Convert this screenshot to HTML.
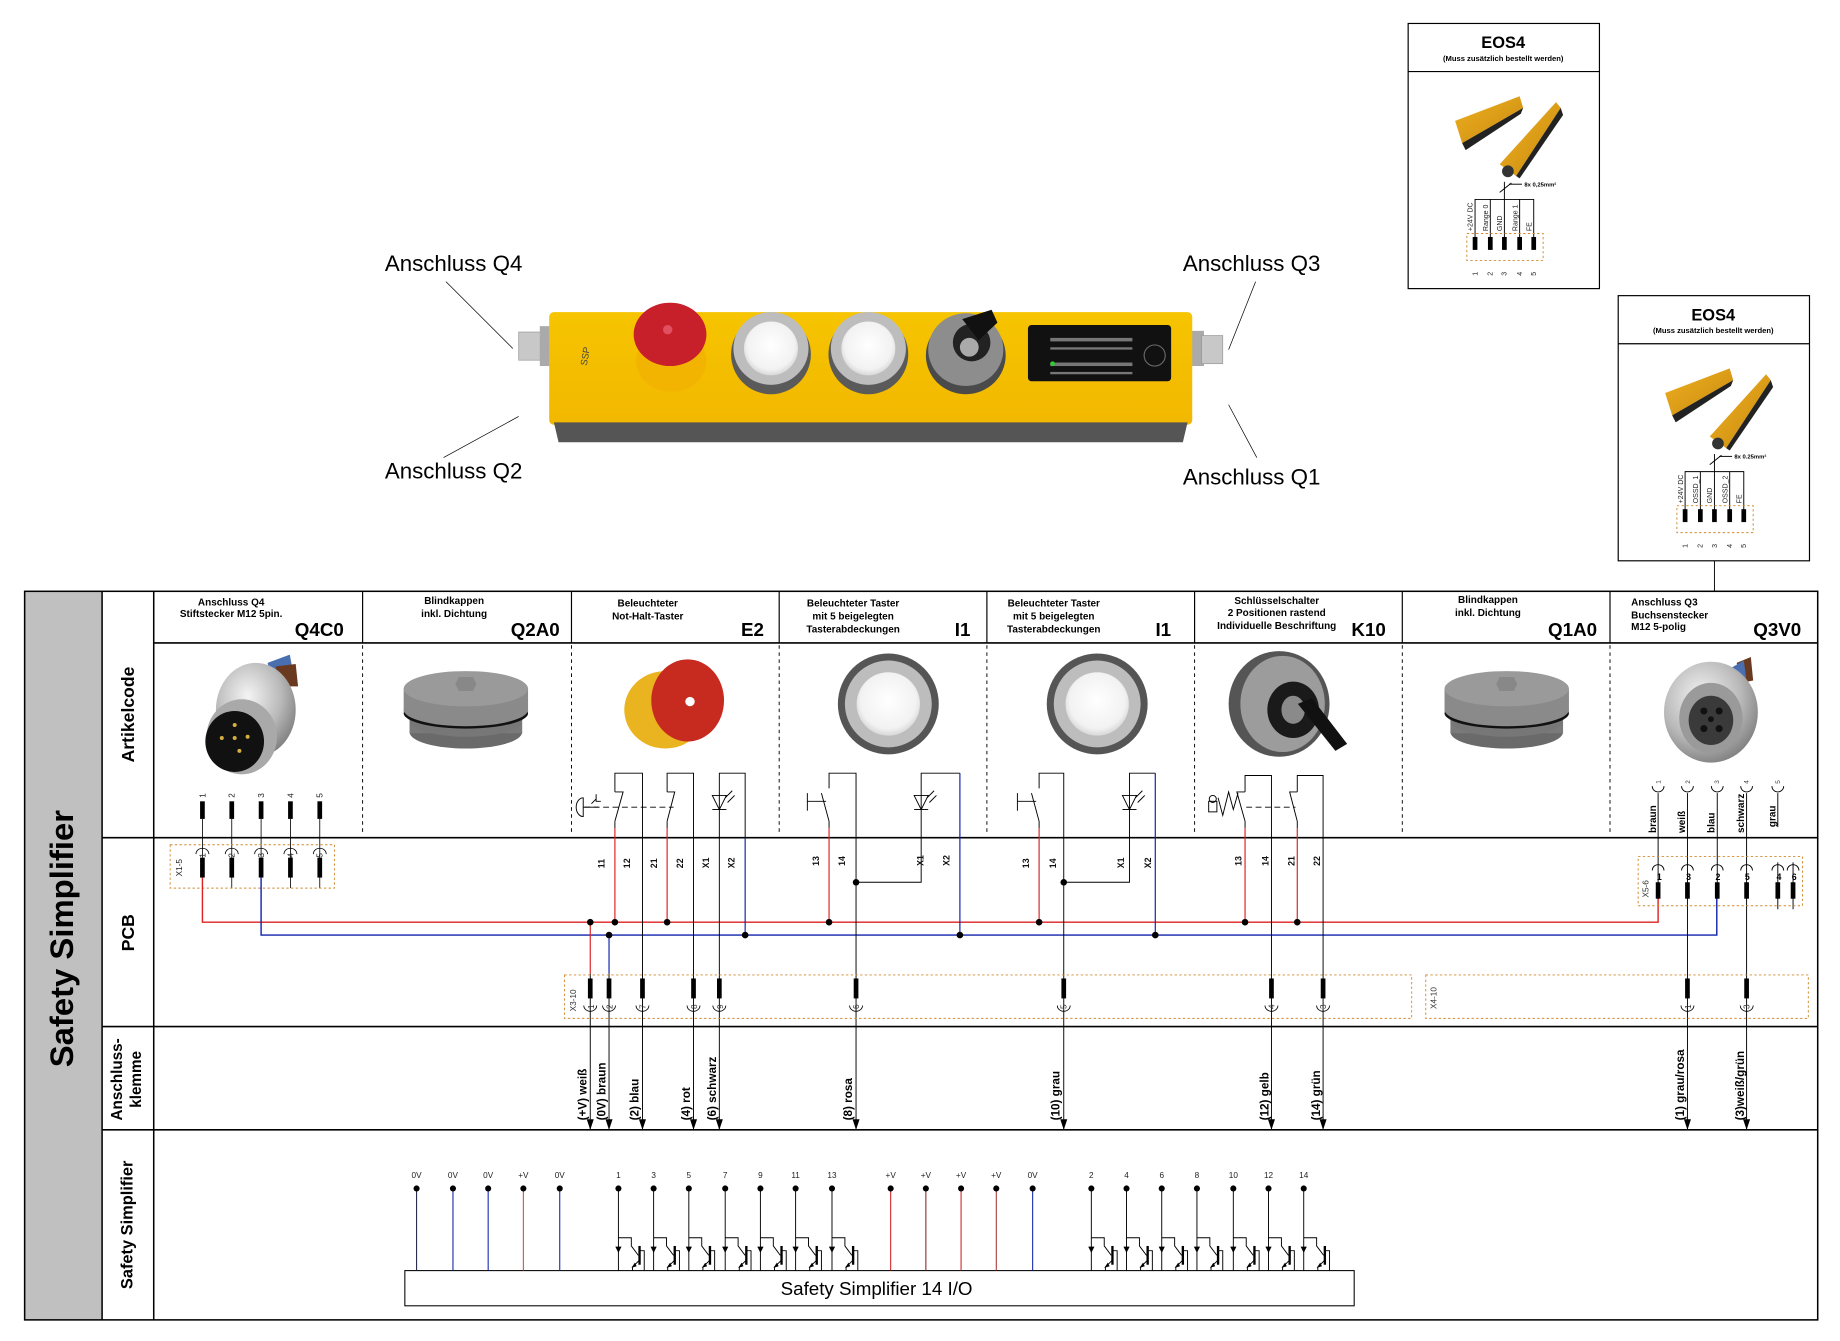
<!DOCTYPE html>
<html><head><meta charset="utf-8"><style>
html,body{margin:0;padding:0;background:#fff}
svg{display:block}
text{font-family:"Liberation Sans",Arial,sans-serif}
</style></head><body>
<svg width="1840" height="1341" viewBox="0 0 1568 1143" preserveAspectRatio="none" xmlns="http://www.w3.org/2000/svg">
<defs>
<radialGradient id="silver" cx="40%" cy="35%" r="70%"><stop offset="0" stop-color="#f4f4f4"/><stop offset="0.6" stop-color="#b9b9b9"/><stop offset="1" stop-color="#7d7d7d"/></radialGradient>
<radialGradient id="white" cx="50%" cy="45%" r="55%"><stop offset="0" stop-color="#fff"/><stop offset="0.8" stop-color="#f2f2f2"/><stop offset="1" stop-color="#d8d8d8"/></radialGradient>
<linearGradient id="yel" x1="0" y1="0" x2="0" y2="1"><stop offset="0" stop-color="#f6c400"/><stop offset="1" stop-color="#f2b800"/></linearGradient>
<linearGradient id="bar" x1="0" y1="0" x2="1" y2="1"><stop offset="0" stop-color="#f0b020"/><stop offset="1" stop-color="#c88a10"/></linearGradient>
</defs>

<!-- ===== TOP DEVICE ===== -->
<text x="328" y="231" font-size="19">Anschluss Q4</text>
<text x="328" y="408" font-size="19">Anschluss Q2</text>
<text x="1008" y="231" font-size="19">Anschluss Q3</text>
<text x="1008" y="413" font-size="19">Anschluss Q1</text>
<g stroke="#000" stroke-width="0.6">
<line x1="380" y1="240" x2="437" y2="297"/>
<line x1="378" y1="390" x2="442" y2="355"/>
<line x1="1070" y1="240" x2="1047" y2="298"/>
<line x1="1047" y1="345" x2="1071" y2="390"/>
</g>
<!-- connectors -->
<rect x="442" y="283" width="20" height="24" fill="#c8c8c8" stroke="#999" stroke-width="0.6"/>
<rect x="460" y="278" width="10" height="34" fill="#aaa"/>
<rect x="1014" y="282" width="12" height="30" fill="#aaa"/>
<rect x="1024" y="286" width="18" height="24" fill="#c8c8c8" stroke="#999" stroke-width="0.6"/>
<!-- body -->
<rect x="468" y="266" width="548" height="96" rx="4" fill="url(#yel)"/>
<path d="M472 360 H1012 L1008 377 H476 Z" fill="#555"/>
<!-- e-stop -->
<ellipse cx="572" cy="308" rx="30" ry="26" fill="#f2b400"/>
<ellipse cx="571" cy="285" rx="31" ry="27" fill="#c8202a"/>
<ellipse cx="569" cy="281" rx="4" ry="4" fill="#e05060"/>
<!-- white buttons -->
<ellipse cx="657" cy="302" rx="34" ry="34" fill="#5a5a5a"/>
<ellipse cx="657" cy="297" rx="32" ry="31" fill="#bdbdbd"/>
<ellipse cx="657" cy="297" rx="23" ry="23" fill="url(#white)"/>
<ellipse cx="740" cy="302" rx="34" ry="34" fill="#5a5a5a"/>
<ellipse cx="740" cy="297" rx="32" ry="31" fill="#bdbdbd"/>
<ellipse cx="740" cy="297" rx="23" ry="23" fill="url(#white)"/>
<!-- key switch -->
<ellipse cx="823" cy="303" rx="34" ry="33" fill="#4a4a4a"/>
<ellipse cx="823" cy="298" rx="32" ry="31" fill="#8d8d8d"/>
<ellipse cx="828" cy="292" rx="16" ry="16" fill="#222"/>
<ellipse cx="826" cy="296" rx="8" ry="8" fill="#aaa"/>
<path d="M820 272 L845 264 L850 275 L834 290 Z" fill="#111"/>
<!-- display -->
<rect x="876" y="277" width="122" height="48" rx="3" fill="#111"/>
<g fill="#777"><rect x="895" y="288" width="70" height="3"/><rect x="895" y="296" width="70" height="2"/><rect x="895" y="309" width="70" height="3"/><rect x="895" y="317" width="70" height="2"/></g>
<circle cx="897" cy="310" r="2" fill="#3c3"/>
<circle cx="984" cy="303" r="9" fill="none" stroke="#666" stroke-width="1"/>
<text x="500" y="312" font-size="8" fill="#444" transform="rotate(-80 500 312)">SSP</text>

<!-- ===== EOS4 boxes ===== -->
<g id="eos1">
<rect x="1200" y="20" width="163" height="226" fill="#fff" stroke="#000" stroke-width="1"/>
<line x1="1200" y1="61" x2="1363" y2="61" stroke="#000" stroke-width="1"/>
<text x="1281" y="41" font-size="14" font-weight="bold" text-anchor="middle">EOS4</text>
<text x="1281" y="52" font-size="6.5" font-weight="bold" text-anchor="middle">(Muss zusätzlich bestellt werden)</text>
<path d="M1240 103 L1295 82 L1298 92 L1246 122 Z" fill="url(#bar)"/>
<path d="M1246 122 L1298 92 L1296 97 L1249 128 Z" fill="#222"/>
<path d="M1278 140 L1326 87 L1330 92 L1292 150 Z" fill="url(#bar)"/>
<path d="M1292 150 L1330 92 L1332 98 L1295 152 Z" fill="#222"/>
<circle cx="1285" cy="146" r="5" fill="#333"/>
<g stroke="#000" stroke-width="0.8" fill="none">
<path d="M1257 211 V170 H1307 V211"/><line x1="1270" y1="170" x2="1270" y2="211"/><line x1="1282" y1="155" x2="1282" y2="211"/><line x1="1295" y1="170" x2="1295" y2="211"/>
<line x1="1278" y1="164" x2="1288" y2="156"/><line x1="1286" y1="157" x2="1297" y2="157"/>
</g>
<text x="1299" y="159" font-size="5" font-weight="bold">8x 0,25mm²</text>
<g fill="#000"><rect x="1255" y="202" width="4" height="11"/><rect x="1268" y="202" width="4" height="11"/><rect x="1280" y="202" width="4" height="11"/><rect x="1293" y="202" width="4" height="11"/><rect x="1305" y="202" width="4" height="11"/></g>
<rect x="1250" y="199" width="65" height="23" fill="none" stroke="#d08a30" stroke-width="0.8" stroke-dasharray="2,2"/>
<g font-size="6" fill="#222">
<text transform="translate(1255 197) rotate(-90)">+24V DC</text>
<text transform="translate(1268 197) rotate(-90)">Range 0</text>
<text transform="translate(1280 197) rotate(-90)">GND</text>
<text transform="translate(1293 197) rotate(-90)">Range 1</text>
<text transform="translate(1305 197) rotate(-90)">FE</text>
<text transform="translate(1259 235) rotate(-90)">1</text>
<text transform="translate(1272 235) rotate(-90)">2</text>
<text transform="translate(1284 235) rotate(-90)">3</text>
<text transform="translate(1297 235) rotate(-90)">4</text>
<text transform="translate(1309 235) rotate(-90)">5</text>
</g>
</g>
<g transform="translate(179 232)">
<rect x="1200" y="20" width="163" height="226" fill="#fff" stroke="#000" stroke-width="1"/>
<line x1="1200" y1="61" x2="1363" y2="61" stroke="#000" stroke-width="1"/>
<text x="1281" y="41" font-size="14" font-weight="bold" text-anchor="middle">EOS4</text>
<text x="1281" y="52" font-size="6.5" font-weight="bold" text-anchor="middle">(Muss zusätzlich bestellt werden)</text>
<path d="M1240 103 L1295 82 L1298 92 L1246 122 Z" fill="url(#bar)"/>
<path d="M1246 122 L1298 92 L1296 97 L1249 128 Z" fill="#222"/>
<path d="M1278 140 L1326 87 L1330 92 L1292 150 Z" fill="url(#bar)"/>
<path d="M1292 150 L1330 92 L1332 98 L1295 152 Z" fill="#222"/>
<circle cx="1285" cy="146" r="5" fill="#333"/>
<g stroke="#000" stroke-width="0.8" fill="none">
<path d="M1257 211 V170 H1307 V211"/><line x1="1270" y1="170" x2="1270" y2="211"/><line x1="1282" y1="155" x2="1282" y2="211"/><line x1="1295" y1="170" x2="1295" y2="211"/>
<line x1="1278" y1="164" x2="1288" y2="156"/><line x1="1286" y1="157" x2="1297" y2="157"/>
</g>
<text x="1299" y="159" font-size="5" font-weight="bold">8x 0.25mm²</text>
<g fill="#000"><rect x="1255" y="202" width="4" height="11"/><rect x="1268" y="202" width="4" height="11"/><rect x="1280" y="202" width="4" height="11"/><rect x="1293" y="202" width="4" height="11"/><rect x="1305" y="202" width="4" height="11"/></g>
<rect x="1250" y="199" width="65" height="23" fill="none" stroke="#d08a30" stroke-width="0.8" stroke-dasharray="2,2"/>
<g font-size="6" fill="#222">
<text transform="translate(1255 197) rotate(-90)">+24V DC</text>
<text transform="translate(1268 197) rotate(-90)">OSSD_1</text>
<text transform="translate(1280 197) rotate(-90)">GND</text>
<text transform="translate(1293 197) rotate(-90)">OSSD_2</text>
<text transform="translate(1305 197) rotate(-90)">FE</text>
<text transform="translate(1259 235) rotate(-90)">1</text>
<text transform="translate(1272 235) rotate(-90)">2</text>
<text transform="translate(1284 235) rotate(-90)">3</text>
<text transform="translate(1297 235) rotate(-90)">4</text>
<text transform="translate(1309 235) rotate(-90)">5</text>
</g>
</g>
<line x1="1461" y1="478" x2="1461" y2="504" stroke="#000" stroke-width="0.8"/>

<!-- ===== TABLE FRAME ===== -->
<rect x="21" y="504" width="66" height="621" fill="#c0c0c0"/>
<g stroke="#000" stroke-width="1.3" fill="none">
<rect x="21" y="504" width="1528" height="621"/>
<line x1="87" y1="504" x2="87" y2="1125"/>
<line x1="131" y1="504" x2="131" y2="1125"/>
<line x1="131" y1="548" x2="1549" y2="548"/>
<line x1="87" y1="714" x2="1549" y2="714"/>
<line x1="87" y1="875" x2="1549" y2="875"/>
<line x1="87" y1="963" x2="1549" y2="963"/>
</g>
<g stroke="#000" stroke-width="1">
<line x1="309" y1="504" x2="309" y2="548"/><line x1="487" y1="504" x2="487" y2="548"/><line x1="664" y1="504" x2="664" y2="548"/><line x1="841" y1="504" x2="841" y2="548"/><line x1="1018" y1="504" x2="1018" y2="548"/><line x1="1195" y1="504" x2="1195" y2="548"/><line x1="1372" y1="504" x2="1372" y2="548"/>
</g>
<g stroke="#000" stroke-width="0.8" stroke-dasharray="3,3">
<line x1="309" y1="550" x2="309" y2="712"/><line x1="487" y1="550" x2="487" y2="712"/><line x1="664" y1="550" x2="664" y2="712"/><line x1="841" y1="550" x2="841" y2="712"/><line x1="1018" y1="550" x2="1018" y2="712"/><line x1="1195" y1="550" x2="1195" y2="712"/><line x1="1372" y1="550" x2="1372" y2="712"/>
</g>
<text transform="translate(62 800) rotate(-90)" font-size="28" font-weight="bold" text-anchor="middle">Safety Simplifier</text>
<text transform="translate(114 609) rotate(-90)" font-size="15" font-weight="bold" text-anchor="middle">Artikelcode</text>
<text transform="translate(114 795) rotate(-90)" font-size="15" font-weight="bold" text-anchor="middle">PCB</text>
<text transform="translate(104 920) rotate(-90)" font-size="13" font-weight="bold" text-anchor="middle">Anschluss-</text>
<text transform="translate(120 920) rotate(-90)" font-size="13" font-weight="bold" text-anchor="middle">klemme</text>
<text transform="translate(113 1044) rotate(-90)" font-size="14" font-weight="bold" text-anchor="middle">Safety Simplifier</text>

<!-- header texts -->
<g font-size="8.5" font-weight="bold" text-anchor="middle">
<text x="197" y="516">Anschluss Q4</text><text x="197" y="526">Stiftstecker M12 5pin.</text>
<text x="387" y="515">Blindkappen</text><text x="387" y="526">inkl. Dichtung</text>
<text x="552" y="517">Beleuchteter</text><text x="552" y="528">Not-Halt-Taster</text>
<text x="727" y="517">Beleuchteter Taster</text><text x="727" y="528">mit 5 beigelegten</text><text x="727" y="539">Tasterabdeckungen</text>
<text x="898" y="517">Beleuchteter Taster</text><text x="898" y="528">mit 5 beigelegten</text><text x="898" y="539">Tasterabdeckungen</text>
<text x="1088" y="515">Schlüsselschalter</text><text x="1088" y="525">2 Positionen rastend</text><text x="1088" y="536">Individuelle Beschriftung</text>
<text x="1268" y="514">Blindkappen</text><text x="1268" y="525">inkl. Dichtung</text>
</g>
<g font-size="8.5" font-weight="bold">
<text x="1390" y="516">Anschluss Q3</text><text x="1390" y="527">Buchsenstecker</text><text x="1390" y="537">M12 5-polig</text>
</g>
<g font-size="16" font-weight="bold" text-anchor="end">
<text x="293" y="542">Q4C0</text><text x="477" y="542">Q2A0</text><text x="651" y="542">E2</text><text x="827" y="542">I1</text><text x="998" y="542">I1</text><text x="1181" y="542">K10</text><text x="1361" y="542">Q1A0</text><text x="1535" y="542">Q3V0</text>
</g>

<!-- product images -->
<!-- Q4 connector -->
<path d="M228 565 L247 558 L250 575 L232 580 Z" fill="#4a6fb0"/>
<path d="M235 568 L252 566 L254 585 L238 585 Z" fill="#6a3a20"/>
<ellipse cx="218" cy="605" rx="34" ry="40" fill="url(#silver)"/>
<ellipse cx="206" cy="628" rx="30" ry="32" fill="#a9a9a9"/>
<ellipse cx="200" cy="632" rx="25" ry="26" fill="#111"/>
<g fill="#d4b040"><circle cx="200" cy="618" r="1.7"/><circle cx="189" cy="629" r="1.7"/><circle cx="200" cy="629" r="1.7"/><circle cx="211" cy="628" r="1.7"/><circle cx="204" cy="640" r="1.7"/></g>
<!-- blind caps -->
<g id="cap">
<ellipse cx="397" cy="624" rx="48" ry="14" fill="#6a6a6a"/>
<rect x="349" y="605" width="96" height="20" fill="#7a7a7a"/>
<ellipse cx="397" cy="614" rx="48" ry="14" fill="#777"/>
<ellipse cx="397" cy="608" rx="53" ry="13" fill="#111"/>
<rect x="344" y="587" width="106" height="20" fill="#8a8a8a"/>
<ellipse cx="397" cy="605" rx="53" ry="14" fill="#8a8a8a"/>
<ellipse cx="397" cy="587" rx="53" ry="15" fill="#9a9a9a"/>
<path d="M391 577 L403 577 L406 583 L403 589 L391 589 L388 583 Z" fill="#888"/>
</g>
<use href="#cap" transform="translate(887 0)"/>
<!-- E2 -->
<ellipse cx="567" cy="605" rx="35" ry="33" fill="#eab320"/>
<ellipse cx="586" cy="597" rx="31" ry="35" fill="#c72a1e"/>
<circle cx="588" cy="598" r="4" fill="#fff"/>
<!-- I1 x2 -->
<circle cx="757" cy="600" r="43" fill="#555"/><circle cx="757" cy="600" r="37" fill="#bdbdbd"/><circle cx="757" cy="600" r="27" fill="url(#white)"/>
<circle cx="935" cy="600" r="43" fill="#555"/><circle cx="935" cy="600" r="37" fill="#bdbdbd"/><circle cx="935" cy="600" r="27" fill="url(#white)"/>
<!-- K10 -->
<ellipse cx="1090" cy="600" rx="43" ry="45" fill="#555"/>
<ellipse cx="1093" cy="600" rx="36" ry="41" fill="#9c9c9c"/>
<ellipse cx="1102" cy="605" rx="22" ry="24" fill="#1a1a1a"/>
<ellipse cx="1102" cy="605" rx="10" ry="12" fill="#8a8a8a"/>
<path d="M1106 600 L1118 595 L1148 634 L1138 640 Z" fill="#111"/>
<!-- Q3 -->
<path d="M1480 565 L1492 560 L1494 580 L1484 582 Z" fill="#6a3a20"/>
<path d="M1474 570 L1486 563 L1488 578 L1478 582 Z" fill="#4a6fb0"/>
<ellipse cx="1458" cy="607" rx="40" ry="43" fill="url(#silver)"/>
<ellipse cx="1458" cy="612" rx="27" ry="30" fill="#9a9a9a"/>
<ellipse cx="1458" cy="614" rx="19" ry="21" fill="#3a3a3a"/>
<g fill="#111"><circle cx="1452" cy="606" r="3"/><circle cx="1465" cy="606" r="3"/><circle cx="1452" cy="621" r="3"/><circle cx="1465" cy="621" r="3"/><circle cx="1458" cy="613" r="2.5"/></g>

<!-- ===== Q4 pins ===== -->
<g font-size="7" fill="#222">
<text transform="translate(175 680) rotate(-90)">1</text><text transform="translate(200 680) rotate(-90)">2</text><text transform="translate(225 680) rotate(-90)">3</text><text transform="translate(250 680) rotate(-90)">4</text><text transform="translate(275 680) rotate(-90)">5</text>
</g>
<g fill="#000"><rect x="170.5" y="683" width="4" height="15"/><rect x="195.5" y="683" width="4" height="15"/><rect x="220.5" y="683" width="4" height="15"/><rect x="245.5" y="683" width="4" height="15"/><rect x="270.5" y="683" width="4" height="15"/>
<rect x="170.5" y="731" width="4" height="17"/><rect x="195.5" y="731" width="4" height="17"/><rect x="220.5" y="731" width="4" height="17"/><rect x="245.5" y="731" width="4" height="17"/><rect x="270.5" y="731" width="4" height="17"/></g>
<g stroke="#000" stroke-width="0.7" fill="none">
<line x1="172.5" y1="698" x2="172.5" y2="731"/><line x1="197.5" y1="698" x2="197.5" y2="757"/><line x1="222.5" y1="698" x2="222.5" y2="731"/><line x1="247.5" y1="698" x2="247.5" y2="757"/><line x1="272.5" y1="698" x2="272.5" y2="757"/>
<path d="M167 728 a5.5 5 0 0 1 11 0"/><path d="M192 728 a5.5 5 0 0 1 11 0"/><path d="M217 728 a5.5 5 0 0 1 11 0"/><path d="M242 728 a5.5 5 0 0 1 11 0"/><path d="M267 728 a5.5 5 0 0 1 11 0"/>
</g>
<g font-size="7" fill="#222">
<text transform="translate(175 731) rotate(-90)">1</text><text transform="translate(200 731) rotate(-90)">2</text><text transform="translate(225 731) rotate(-90)">3</text><text transform="translate(250 731) rotate(-90)">4</text><text transform="translate(275 731) rotate(-90)">5</text>
<text transform="translate(155 747) rotate(-90)">X1-5</text>
</g>
<rect x="145" y="720" width="140" height="37" fill="none" stroke="#d08a30" stroke-width="0.8" stroke-dasharray="2,2"/>

<!-- ===== BUSES ===== -->
<path d="M172.5 748 V786 H1413 V760" stroke="#d22" stroke-width="1.2" fill="none"/>
<path d="M222.5 748 V797 H1463 V760" stroke="#12a" stroke-width="1.2" fill="none"/>

<!-- ===== E2 wiring ===== -->
<g stroke="#000" stroke-width="0.8" fill="none">
<!-- sw1 -->
<path d="M524 675 V659 H547.5 V963"/><path d="M524 675 H531 L524 700"/>
<path d="M568.5 675 V659 H591 V963"/><path d="M568.5 675 H575 L568.5 700"/>
<line x1="524" y1="700" x2="524" y2="706"/><line x1="568.5" y1="700" x2="568.5" y2="706"/>
<path d="M613 963 V659 H635 V714"/>
<path d="M607 678 H619 L613 690 Z"/><line x1="607" y1="690" x2="619" y2="690"/>
<path d="M618 680 l6 -6 M620 684 l6 -6"/>
<line x1="498" y1="688" x2="574" y2="688" stroke-dasharray="5,3"/>
<path d="M497 680 a6 8 0 0 0 0 16 Z"/><line x1="497" y1="688" x2="510" y2="688"/><path d="M504 685 l4 -4 M508 677 v6 h4"/>
<!-- I1 a -->
<path d="M706.5 672 V659 H729.5 V963"/><path d="M700 676 L706.5 700 V706"/>
<line x1="688" y1="683" x2="704" y2="683"/><line x1="688" y1="676" x2="688" y2="691"/>
<path d="M729.5 752 H785 V659 H818"/>
<path d="M779 678 H791 L785 690 Z"/><line x1="779" y1="690" x2="791" y2="690"/><path d="M790 680 l6 -6 M792 684 l6 -6"/>
<!-- I1 b -->
<path d="M885.5 672 V659 H906.5 V963"/><path d="M879 676 L885.5 700 V706"/>
<line x1="867" y1="683" x2="883" y2="683"/><line x1="867" y1="676" x2="867" y2="691"/>
<path d="M906.5 752 H962.5 V659 H984.5"/>
<path d="M956.5 678 H968.5 L962.5 690 Z"/><line x1="956.5" y1="690" x2="968.5" y2="690"/><path d="M967.5 680 l6 -6 M969.5 684 l6 -6"/>
<!-- K10 -->
<path d="M1061 675 V661 H1083.5 V963"/><path d="M1061 675 H1054 L1061 700 V706"/>
<path d="M1105.5 675 V661 H1127.5 V963"/><path d="M1105.5 675 H1099 L1105.5 700 V706"/>
<line x1="1062" y1="688" x2="1104" y2="688" stroke-dasharray="5,3"/>
<path d="M1038 680 l4 15 l5 -20 l4 15 l4 -14" />
<rect x="1030" y="683" width="7" height="9"/><circle cx="1033.5" cy="681" r="3"/>
</g>
<!-- red/blue risers -->
<g stroke-width="1" fill="none">
<line x1="524" y1="706" x2="524" y2="786" stroke="#d22"/><line x1="568.5" y1="706" x2="568.5" y2="786" stroke="#d22"/>
<line x1="635" y1="714" x2="635" y2="797" stroke="#12a"/>
<line x1="706.5" y1="706" x2="706.5" y2="786" stroke="#d22"/><line x1="818" y1="659" x2="818" y2="797" stroke="#12a"/>
<line x1="885.5" y1="706" x2="885.5" y2="786" stroke="#d22"/><line x1="984.5" y1="659" x2="984.5" y2="797" stroke="#12a"/>
<line x1="1061" y1="706" x2="1061" y2="786" stroke="#d22"/><line x1="1105.5" y1="706" x2="1105.5" y2="786" stroke="#d22"/>
<line x1="503" y1="786" x2="503" y2="830" stroke="#d22"/><line x1="519" y1="797" x2="519" y2="830" stroke="#12a"/>
</g>
<g stroke="#000" stroke-width="0.8"><line x1="503" y1="830" x2="503" y2="963"/><line x1="519" y1="830" x2="519" y2="963"/>
<line x1="1438" y1="676" x2="1438" y2="963"/><line x1="1488.4" y1="676" x2="1488.4" y2="963"/>
<line x1="1413" y1="676" x2="1413" y2="760"/><line x1="1463.4" y1="676" x2="1463.4" y2="760"/><line x1="1515" y1="676" x2="1515" y2="705"/>
<line x1="1515" y1="735" x2="1515" y2="775"/><line x1="1528" y1="735" x2="1528" y2="775"/>
</g>
<!-- dots -->
<g fill="#000">
<circle cx="503" cy="786" r="2.8"/><circle cx="524" cy="786" r="2.8"/><circle cx="568.5" cy="786" r="2.8"/><circle cx="519" cy="797" r="2.8"/><circle cx="635" cy="797" r="2.8"/>
<circle cx="706.5" cy="786" r="2.8"/><circle cx="729.5" cy="752" r="2.8"/><circle cx="818" cy="797" r="2.8"/>
<circle cx="885.5" cy="786" r="2.8"/><circle cx="906.5" cy="752" r="2.8"/><circle cx="984.5" cy="797" r="2.8"/>
<circle cx="1061" cy="786" r="2.8"/><circle cx="1105.5" cy="786" r="2.8"/>
</g>
<!-- PCB pin labels -->
<g font-size="7.5" font-weight="bold" fill="#111">
<text transform="translate(515 740) rotate(-90)">11</text><text transform="translate(537 740) rotate(-90)">12</text><text transform="translate(560 740) rotate(-90)">21</text><text transform="translate(582 740) rotate(-90)">22</text><text transform="translate(604 740) rotate(-90)">X1</text><text transform="translate(626 740) rotate(-90)">X2</text>
<text transform="translate(698 738) rotate(-90)">13</text><text transform="translate(720 738) rotate(-90)">14</text><text transform="translate(787 738) rotate(-90)">X1</text><text transform="translate(809 738) rotate(-90)">X2</text>
<text transform="translate(877 740) rotate(-90)">13</text><text transform="translate(900 740) rotate(-90)">14</text><text transform="translate(958 740) rotate(-90)">X1</text><text transform="translate(981 740) rotate(-90)">X2</text>
<text transform="translate(1058 738) rotate(-90)">13</text><text transform="translate(1081 738) rotate(-90)">14</text><text transform="translate(1103 738) rotate(-90)">21</text><text transform="translate(1125 738) rotate(-90)">22</text>
</g>

<!-- Q3 pins -->
<g stroke="#000" stroke-width="0.8" fill="none">
<path d="M1408 670 a5 5 0 0 0 10 0"/><path d="M1433 670 a5 5 0 0 0 10 0"/><path d="M1458.4 670 a5 5 0 0 0 10 0"/><path d="M1483.4 670 a5 5 0 0 0 10 0"/><path d="M1510 670 a5 5 0 0 0 10 0"/>
<path d="M1408 742 a5 5 0 0 1 10 0"/><path d="M1433 742 a5 5 0 0 1 10 0"/><path d="M1458.4 742 a5 5 0 0 1 10 0"/><path d="M1483.4 742 a5 5 0 0 1 10 0"/><path d="M1510 742 a5 5 0 0 1 10 0"/><path d="M1523 742 a5 5 0 0 1 10 0"/>
</g>
<g font-size="5.5" fill="#333">
<text transform="translate(1415 668) rotate(-90)">1</text><text transform="translate(1440 668) rotate(-90)">2</text><text transform="translate(1465 668) rotate(-90)">3</text><text transform="translate(1490 668) rotate(-90)">4</text><text transform="translate(1517 668) rotate(-90)">5</text>
</g>
<g font-size="8.5" font-weight="bold">
<text transform="translate(1411 710) rotate(-90)">braun</text><text transform="translate(1436 710) rotate(-90)">weiß</text><text transform="translate(1461 710) rotate(-90)">blau</text><text transform="translate(1486 710) rotate(-90)">schwarz</text><text transform="translate(1513 705) rotate(-90)">grau</text>
</g>
<g font-size="7.5" font-weight="bold" text-anchor="middle">
<text x="1414" y="750">1</text><text x="1439" y="750">3</text><text x="1464" y="750">2</text><text x="1489" y="750">5</text><text x="1516" y="750">4</text><text x="1529" y="750">6</text>
</g>
<g fill="#000"><rect x="1411" y="752" width="4" height="14"/><rect x="1436" y="752" width="4" height="14"/><rect x="1461.4" y="752" width="4" height="14"/><rect x="1486.4" y="752" width="4" height="14"/><rect x="1513" y="752" width="4" height="14"/><rect x="1526" y="752" width="4" height="14"/></g>
<text transform="translate(1405 765) rotate(-90)" font-size="7" fill="#333">X5-6</text>
<rect x="1396" y="730" width="140" height="42" fill="none" stroke="#d08a30" stroke-width="0.8" stroke-dasharray="2,2"/>

<!-- ===== Terminal strips ===== -->
<rect x="481" y="831" width="722" height="37" fill="none" stroke="#d08a30" stroke-width="0.8" stroke-dasharray="2,2"/>
<rect x="1215" y="831" width="326" height="37" fill="none" stroke="#d08a30" stroke-width="0.8" stroke-dasharray="2,2"/>
<text transform="translate(491 862) rotate(-90)" font-size="7" fill="#333">X3-10</text>
<text transform="translate(1224 860) rotate(-90)" font-size="7" fill="#333">X4-10</text>
<g fill="#000">
<rect x="501" y="834" width="4" height="17"/><rect x="517" y="834" width="4" height="17"/><rect x="545.5" y="834" width="4" height="17"/><rect x="589" y="834" width="4" height="17"/><rect x="611" y="834" width="4" height="17"/><rect x="727.5" y="834" width="4" height="17"/><rect x="904.5" y="834" width="4" height="17"/><rect x="1081.5" y="834" width="4" height="17"/><rect x="1125.5" y="834" width="4" height="17"/><rect x="1436" y="834" width="4" height="17"/><rect x="1486.4" y="834" width="4" height="17"/>
</g>
<g stroke="#000" stroke-width="0.7" fill="none">
<path d="M497.5 857 a5.5 5 0 0 0 11 0"/><path d="M513.5 857 a5.5 5 0 0 0 11 0"/><path d="M542 857 a5.5 5 0 0 0 11 0"/><path d="M585.5 857 a5.5 5 0 0 0 11 0"/><path d="M607.5 857 a5.5 5 0 0 0 11 0"/><path d="M724 857 a5.5 5 0 0 0 11 0"/><path d="M901 857 a5.5 5 0 0 0 11 0"/><path d="M1078 857 a5.5 5 0 0 0 11 0"/><path d="M1122 857 a5.5 5 0 0 0 11 0"/><path d="M1432.5 857 a5.5 5 0 0 0 11 0"/><path d="M1483 857 a5.5 5 0 0 0 11 0"/>
</g>
<g font-size="7" fill="#333">
<text transform="translate(506 860) rotate(-90)">1</text><text transform="translate(522 860) rotate(-90)">2</text><text transform="translate(550 860) rotate(-90)">7</text><text transform="translate(594 860) rotate(-90)">8</text><text transform="translate(616 860) rotate(-90)">9</text><text transform="translate(732 860) rotate(-90)">6</text><text transform="translate(909 860) rotate(-90)">5</text><text transform="translate(1086 860) rotate(-90)">4</text><text transform="translate(1130 860) rotate(-90)">3</text><text transform="translate(1441 860) rotate(-90)">1</text><text transform="translate(1491 860) rotate(-90)">3</text>
</g>

<!-- Anschlussklemme labels and arrows -->
<g font-size="10" font-weight="bold">
<text transform="translate(500 955) rotate(-90)">(+V) weiß</text>
<text transform="translate(516 955) rotate(-90)">(0V) braun</text>
<text transform="translate(544 955) rotate(-90)">(2) blau</text>
<text transform="translate(588 955) rotate(-90)">(4) rot</text>
<text transform="translate(610 955) rotate(-90)">(6) schwarz</text>
<text transform="translate(726 955) rotate(-90)">(8) rosa</text>
<text transform="translate(903 955) rotate(-90)">(10) grau</text>
<text transform="translate(1081 955) rotate(-90)">(12) gelb</text>
<text transform="translate(1125 955) rotate(-90)">(14) grün</text>
<text transform="translate(1435 955) rotate(-90)">(1) grau/rosa</text>
<text transform="translate(1486 955) rotate(-90)">(3)weiß/grün</text>
</g>
<g fill="#000">
<path d="M500 954 h6 l-3 9 z"/><path d="M516 954 h6 l-3 9 z"/><path d="M544.5 954 h6 l-3 9 z"/><path d="M588 954 h6 l-3 9 z"/><path d="M610 954 h6 l-3 9 z"/><path d="M726.5 954 h6 l-3 9 z"/><path d="M903.5 954 h6 l-3 9 z"/><path d="M1080.5 954 h6 l-3 9 z"/><path d="M1124.5 954 h6 l-3 9 z"/><path d="M1435 954 h6 l-3 9 z"/><path d="M1485.4 954 h6 l-3 9 z"/>
</g>

<!-- ===== Safety Simplifier row ===== -->
<rect x="345" y="1083" width="809" height="30" fill="#fff" stroke="#000" stroke-width="0.9"/>
<text x="747" y="1104" font-size="16" text-anchor="middle">Safety Simplifier 14 I/O</text>
<g font-size="7" text-anchor="middle" fill="#222">
<text x="355" y="1004">0V</text><text x="386" y="1004">0V</text><text x="416" y="1004">0V</text><text x="446" y="1004">+V</text><text x="477" y="1004">0V</text>
<text x="527" y="1004">1</text><text x="557" y="1004">3</text><text x="587" y="1004">5</text><text x="618" y="1004">7</text><text x="648" y="1004">9</text><text x="678" y="1004">11</text><text x="709" y="1004">13</text>
<text x="759" y="1004">+V</text><text x="789" y="1004">+V</text><text x="819" y="1004">+V</text><text x="849" y="1004">+V</text><text x="880" y="1004">0V</text>
<text x="930" y="1004">2</text><text x="960" y="1004">4</text><text x="990" y="1004">6</text><text x="1020" y="1004">8</text><text x="1051" y="1004">10</text><text x="1081" y="1004">12</text><text x="1111" y="1004">14</text>
</g>
<g stroke-width="0.9">
<line x1="355" y1="1013" x2="355" y2="1083" stroke="#224"/><line x1="386" y1="1013" x2="386" y2="1083" stroke="#12a"/><line x1="416" y1="1013" x2="416" y2="1083" stroke="#12a"/><line x1="446" y1="1013" x2="446" y2="1083" stroke="#d44"/><line x1="477" y1="1013" x2="477" y2="1083" stroke="#12a"/>
<line x1="759" y1="1013" x2="759" y2="1083" stroke="#c22"/><line x1="789" y1="1013" x2="789" y2="1083" stroke="#822"/><line x1="819" y1="1013" x2="819" y2="1083" stroke="#c22"/><line x1="849" y1="1013" x2="849" y2="1083" stroke="#a33"/><line x1="880" y1="1013" x2="880" y2="1083" stroke="#12a"/>
</g>
<g fill="#000">
<circle cx="355" cy="1013" r="2.6"/><circle cx="386" cy="1013" r="2.6"/><circle cx="416" cy="1013" r="2.6"/><circle cx="446" cy="1013" r="2.6"/><circle cx="477" cy="1013" r="2.6"/>
<circle cx="527" cy="1013" r="2.6"/><circle cx="557" cy="1013" r="2.6"/><circle cx="587" cy="1013" r="2.6"/><circle cx="618" cy="1013" r="2.6"/><circle cx="648" cy="1013" r="2.6"/><circle cx="678" cy="1013" r="2.6"/><circle cx="709" cy="1013" r="2.6"/>
<circle cx="759" cy="1013" r="2.6"/><circle cx="789" cy="1013" r="2.6"/><circle cx="819" cy="1013" r="2.6"/><circle cx="849" cy="1013" r="2.6"/><circle cx="880" cy="1013" r="2.6"/>
<circle cx="930" cy="1013" r="2.6"/><circle cx="960" cy="1013" r="2.6"/><circle cx="990" cy="1013" r="2.6"/><circle cx="1020" cy="1013" r="2.6"/><circle cx="1051" cy="1013" r="2.6"/><circle cx="1081" cy="1013" r="2.6"/><circle cx="1111" cy="1013" r="2.6"/>
</g>
<!-- transistor symbols -->
<g id="tr" stroke="#000" stroke-width="0.8" fill="none">
<path d="M527 1013 V1083"/><path d="M525 1063 h4 l-2 4 z" fill="#000"/>
<path d="M527 1055 H538 V1062 L544 1070"/>
<line x1="545" y1="1062" x2="545" y2="1078" stroke-width="2"/>
<path d="M545 1066 L549 1066 V1083"/>
<path d="M545 1074 L539 1080 V1083"/><path d="M539 1080 l3 -1 l-1 -2 z" fill="#000"/>
</g>
<use href="#tr" x="30"/><use href="#tr" x="60"/><use href="#tr" x="91"/><use href="#tr" x="121"/><use href="#tr" x="151"/><use href="#tr" x="182"/>
<use href="#tr" x="403"/><use href="#tr" x="433"/><use href="#tr" x="463"/><use href="#tr" x="493"/><use href="#tr" x="524"/><use href="#tr" x="554"/><use href="#tr" x="584"/>
</svg>
</body></html>
